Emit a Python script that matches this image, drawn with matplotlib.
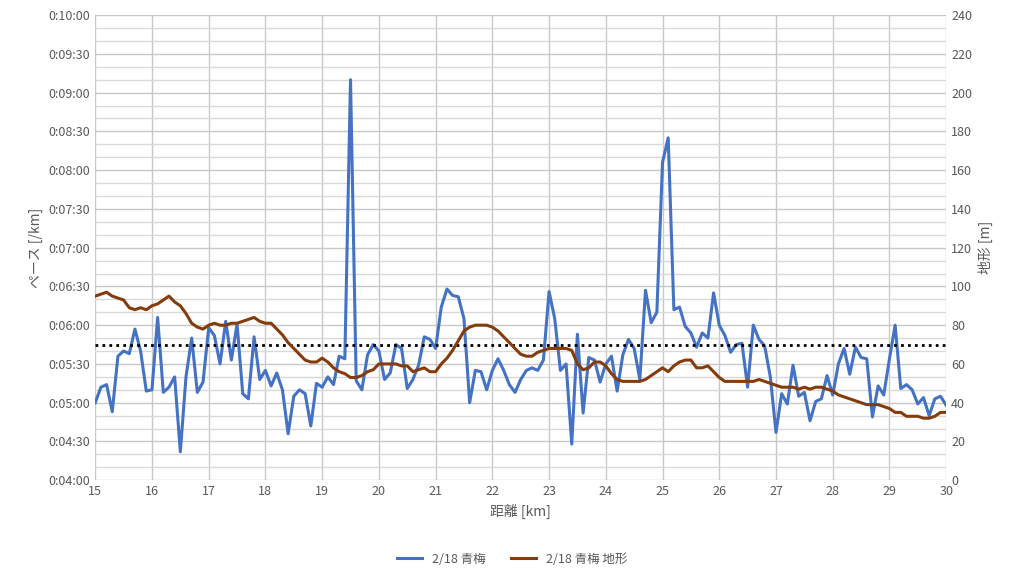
import matplotlib
matplotlib.use("Agg")
import matplotlib.pyplot as plt
import numpy as np
from matplotlib.ticker import MultipleLocator, FuncFormatter

plt.rcParams['font.family'] = ['Noto Sans CJK JP', 'DejaVu Sans']

pace = [300,312,314,293,336,340,338,357,340,309,
        310,366,308,312,320,262,320,350,308,316,
        358,352,330,363,333,361,307,303,351,318,
        325,313,323,310,276,305,310,307,282,315,
        312,320,314,336,334,550,317,310,337,345,
        340,318,323,345,342,311,318,329,351,349,
        342,374,388,383,382,365,300,325,324,310,
        325,334,325,314,308,318,325,327,325,333,
        386,365,325,330,268,353,292,335,333,316,
        330,336,309,337,349,342,318,387,362,370,
        486,505,372,374,359,354,343,354,350,385,
        360,352,339,345,346,312,360,349,344,320,
        277,307,299,329,305,308,286,301,303,321,
        306,330,342,322,343,335,334,289,313,306,
        334,360,311,314,310,299,304,290,303,305,298]
terrain = [95,96,97,95,94,93,89,88,89,88,
           90,91,93,95,92,90,86,81,79,78,
           80,81,80,80,81,81,82,83,84,82,
           81,81,78,75,71,68,65,62,61,61,
           63,61,58,56,55,53,53,54,56,57,
           60,60,60,60,59,59,56,57,58,56,
           56,60,63,67,72,77,79,80,80,80,
           79,77,74,71,68,65,64,64,66,67,
           68,68,68,68,67,60,57,58,61,61,
           59,55,52,51,51,51,51,52,54,56,
           58,56,59,61,62,62,58,58,59,56,
           53,51,51,51,51,51,51,52,51,50,
           49,48,48,48,47,48,47,48,48,47,
           46,44,43,42,41,40,39,39,39,38,
           37,35,35,33,33,33,32,32,33,35,35]
dist = np.round(np.linspace(15, 30, len(pace)), 2)
target_pace = 345

fig = plt.figure(figsize=(10.24, 5.8), dpi=100)
ax = fig.add_axes([0.093, 0.172, 0.831, 0.802])
ax2 = ax.twinx()

ax.set_xlim(15, 30)
ax.set_ylim(240, 600)
ax2.set_ylim(0, 240)
ax.xaxis.set_major_locator(MultipleLocator(1))
ax.yaxis.set_major_locator(MultipleLocator(30))
ax.yaxis.set_minor_locator(MultipleLocator(10))
ax2.yaxis.set_major_locator(MultipleLocator(20))

def fmt(v, p):
    v = int(round(v))
    return f"0:{v//60:02d}:{v%60:02d}"
ax.yaxis.set_major_formatter(FuncFormatter(fmt))

ax.grid(True, which='major', color='#c8c8c8', lw=1)
ax.grid(True, which='minor', axis='y', color='#d9d9d9', lw=1)
ax.set_axisbelow(True)

l1, = ax.plot(dist, pace, color='#4472C4', lw=2.2, label='2/18 青梅', zorder=3)
ax.axhline(target_pace, color='black', ls=(0, (1, 1.5)), lw=2, zorder=4)
l2, = ax2.plot(dist, terrain, color='#843C0C', lw=2.2, label='2/18 青梅 地形', zorder=3)

for a in (ax, ax2):
    for s in a.spines.values():
        s.set_visible(False)
    a.tick_params(which='both', length=0, labelsize=9, colors='#595959')
ax.set_xlabel('距離 [km]', fontsize=10, color='#595959')
ax.set_ylabel('ペース [/km]', fontsize=10, color='#595959')
ax2.set_ylabel('地形 [m]', fontsize=10, color='#595959')

fig.legend(handles=[l1, l2], loc='lower center', bbox_to_anchor=(0.5, 0.005),
           ncol=2, frameon=False, fontsize=9, labelcolor='#595959')
fig.savefig('out.png', dpi=100)
